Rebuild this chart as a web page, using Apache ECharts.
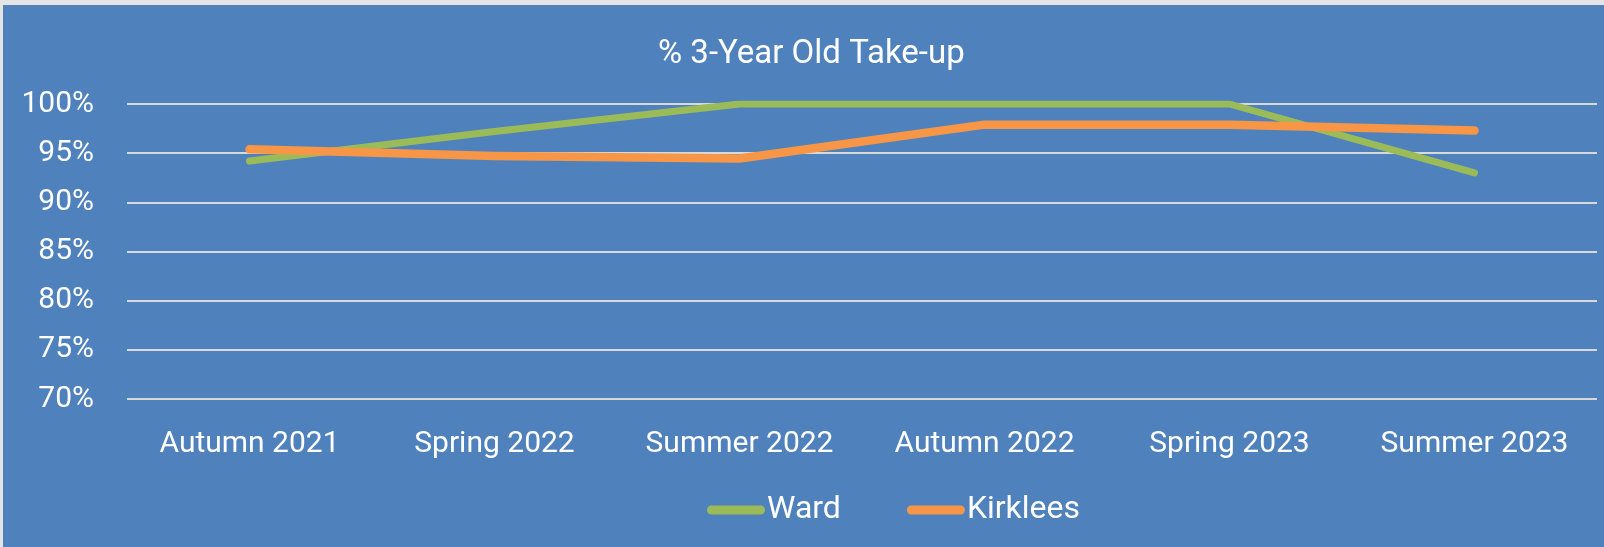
<!DOCTYPE html>
<html>
<head>
  <meta charset="utf-8" />
  <title>% 3-Year Old Take-up</title>
  <script src="https://cdn.jsdelivr.net/npm/echarts@6/dist/echarts.min.js"></script>
  <style>
    body, html { margin: 0; width: 100%; height: 100%; background: #e4e4e4; overflow: hidden; }
    #chart { position: absolute; left: 3px; top: 5px; width: 1601px; height: 542px; background: #4f81bd; }
  </style>
</head>
<body>
<div id="chart"></div>
<script>
  const terms = ['Autumn 2021', 'Spring 2022', 'Summer 2022', 'Autumn 2022', 'Spring 2023', 'Summer 2023']
  const ward = [94.2, 97.2, 100, 100, 100, 93.0]
  const kirklees = [95.4, 94.7, 94.45, 97.9, 97.9, 97.3]
  const yTicks = { min: 70, max: 100, step: 5 }

  const font = 'Roboto, "DejaVu Sans", sans-serif'
  // rounded bar, same aspect as the legend item box (58 x 9)
  const capsule = 'path://M4.5,0 L53.5,0 A4.5,4.5 0 0 1 53.5,9 L4.5,9 A4.5,4.5 0 0 1 4.5,0 Z'

  let myChart = echarts.init(document.getElementById('chart'))

  option = {
    backgroundColor: '#4f81bd',
    textStyle: { fontFamily: font },
    title: {
      text: '% 3-Year Old Take-up',
      left: 650,
      top: 28,
      textStyle: { color: '#fff', fontSize: 33, fontWeight: 'normal', fontFamily: font }
    },
    legend: {
      left: 699,
      top: 484,
      itemWidth: 58,
      itemHeight: 9,
      itemGap: 66,
      textStyle: { color: '#fff', fontSize: 32, fontFamily: font, padding: [0, 0, 0, -3] },
      data: [
        { name: 'Ward', icon: capsule },
        { name: 'Kirklees', icon: capsule }
      ]
    },
    grid: { left: 124, right: 7, top: 99, bottom: 148, containLabel: false },
    xAxis: {
      type: 'category',
      data: terms,
      boundaryGap: true,
      axisLine: { show: false },
      axisTick: { show: false },
      axisLabel: { color: '#fff', fontSize: 30, margin: 30, fontFamily: font, interval: 0 }
    },
    yAxis: {
      type: 'value',
      min: yTicks.min,
      max: yTicks.max,
      interval: yTicks.step,
      axisLine: { show: false },
      axisTick: { show: false },
      axisLabel: { color: '#fff', fontSize: 30, margin: 33, fontFamily: font, formatter: '{value}%' },
      splitLine: { lineStyle: { color: '#d9d9d9', width: 2 } }
    },
    series: [
      {
        name: 'Ward',
        type: 'line',
        data: ward,
        showSymbol: false,
        color: '#9bbb59',
        lineStyle: { width: 7, cap: 'round', join: 'round', color: '#9bbb59' }
      },
      {
        name: 'Kirklees',
        type: 'line',
        data: kirklees,
        showSymbol: false,
        color: '#f79646',
        lineStyle: { width: 8.5, cap: 'round', join: 'round', color: '#f79646' }
      }
    ]
  }

  myChart.setOption(option)
</script>
</body>
</html>
